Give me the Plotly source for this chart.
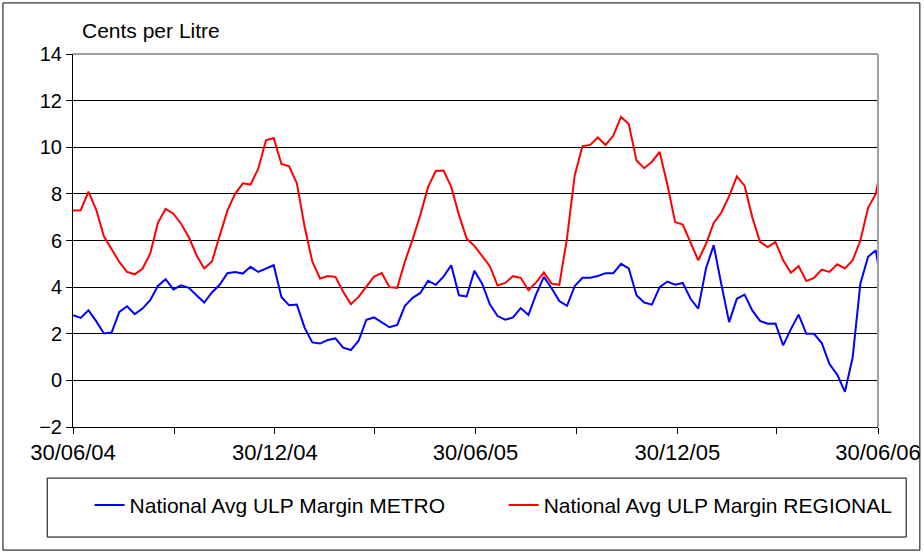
import pandas as pd
import plotly.graph_objects as go

# Weekly readings starting 30/06/2004, plus final day 30/06/2006
start_date = "2004-06-30"
end_date = "2006-06-30"

metro = [2.8, 2.68, 3.01, 2.54, 2.01, 2.05, 2.94, 3.18, 2.84, 3.08,
         3.44, 4.05, 4.34, 3.9, 4.08, 3.97, 3.65, 3.34, 3.77, 4.1,
         4.6, 4.65, 4.58, 4.87, 4.65, 4.8, 4.94, 3.58, 3.22, 3.25,
         2.26, 1.63, 1.58, 1.73, 1.8, 1.4, 1.3, 1.7, 2.6, 2.7,
         2.5, 2.28, 2.38, 3.2, 3.54, 3.75, 4.27, 4.1, 4.45, 4.94,
         3.65, 3.6, 4.7, 4.15, 3.26, 2.76, 2.6, 2.7, 3.1, 2.8,
         3.7, 4.44, 3.95, 3.4, 3.2, 4.05, 4.4, 4.4, 4.48, 4.6,
         4.6, 5.0, 4.8, 3.65, 3.34, 3.25, 4.0, 4.24, 4.1, 4.18,
         3.5, 3.08, 4.8, 5.8, 4.1, 2.5, 3.5, 3.68, 3.0, 2.55,
         2.43, 2.44, 1.5, 2.2, 2.82, 2.0, 2.0, 1.6, 0.7, 0.25,
         -0.49, 0.98, 4.15, 5.3, 5.58, 5.0]

regional = [7.29, 7.3, 8.1, 7.33, 6.18, 5.65, 5.08, 4.65, 4.55, 4.79,
            5.44, 6.76, 7.36, 7.15, 6.72, 6.15, 5.37, 4.8, 5.1, 6.2,
            7.28, 8.0, 8.45, 8.4, 9.08, 10.3, 10.4, 9.28, 9.18, 8.45,
            6.6, 5.1, 4.37, 4.48, 4.44, 3.8, 3.27, 3.58, 4.0, 4.45,
            4.6, 4.0, 3.97, 5.1, 6.05, 7.1, 8.3, 8.98, 9.0, 8.3,
            7.1, 6.08, 5.77, 5.35, 4.9, 4.07, 4.18, 4.47, 4.4, 3.87,
            4.2, 4.63, 4.15, 4.1, 6.1, 8.8, 10.05, 10.1, 10.42, 10.1,
            10.5, 11.3, 11.0, 9.43, 9.1, 9.38, 9.8, 8.4, 6.79, 6.68,
            5.9, 5.15, 5.85, 6.75, 7.2, 7.9, 8.75, 8.35, 7.0, 5.94,
            5.72, 5.94, 5.15, 4.62, 4.9, 4.26, 4.4, 4.75, 4.65, 4.98,
            4.8, 5.15, 6.0, 7.4, 8.0, 8.5]

tick_dates = ["2004-06-30", "2004-09-30", "2004-12-30", "2005-03-30", "2005-06-30",
              "2005-09-30", "2005-12-30", "2006-03-30", "2006-06-30"]
tick_labels = ["30/06/04", "", "30/12/04", "", "30/06/05", "", "30/12/05", "", "30/06/06"]
y_ticks = [-2, 0, 2, 4, 6, 8, 10, 12, 14]

dates = list(pd.date_range(start_date, periods=len(metro) - 1, freq="7D")) + [pd.Timestamp(end_date)]

FONT = "Liberation Sans, Arial, sans-serif"

fig = go.Figure()
fig.add_trace(go.Scatter(x=dates, y=metro, mode="lines", name="National Avg ULP Margin METRO",
                         line=dict(color="#0000FF", width=2), legend="legend"))
fig.add_trace(go.Scatter(x=dates, y=regional, mode="lines", name="National Avg ULP Margin REGIONAL",
                         line=dict(color="#FF0000", width=2), legend="legend2"))

legend_style = dict(orientation="h", xanchor="left", y=-0.21, yanchor="middle",
                    font=dict(family=FONT, size=21, color="black"),
                    bgcolor="rgba(0,0,0,0)", borderwidth=0)

fig.update_layout(
    width=924, height=554,
    margin=dict(l=73, r=46, t=54, b=127, pad=0, autoexpand=False),
    paper_bgcolor="white", plot_bgcolor="white",
    font=dict(family=FONT, size=20, color="black"),
    showlegend=True,
    legend=dict(x=0.0206, **legend_style),
    legend2=dict(x=0.535, **legend_style),
    xaxis=dict(type="date", range=[start_date, end_date],
               tickvals=tick_dates, ticktext=tick_labels,
               showgrid=False, zeroline=False, automargin=False,
               showline=True, linecolor="black", linewidth=1,
               ticks="outside", ticklen=6, tickcolor="black",
               ticklabelstandoff=0,
               tickfont=dict(family=FONT, size=22), tickangle=0),
    yaxis=dict(range=[-2, 14], tickvals=y_ticks, automargin=False,
               showgrid=True, gridcolor="black", gridwidth=1, zeroline=False,
               showline=True, linecolor="black", linewidth=1,
               ticks="outside", ticklen=6, tickcolor="black",
               tickfont=dict(family=FONT, size=20)),
    shapes=[
        dict(type="line", xref="paper", yref="paper", x0=0, x1=1, y0=1, y1=1,
             line=dict(color="#A0A0A0", width=2)),
        dict(type="line", xref="paper", yref="paper", x0=1, x1=1, y0=0, y1=1,
             line=dict(color="#A0A0A0", width=2)),
        dict(type="rect", xref="paper", yref="paper", x0=-0.032, x1=1.035, y0=-0.295, y1=-0.137,
             line=dict(color="black", width=1)),
        dict(type="rect", xref="paper", yref="paper", x0=-0.087, x1=1.052, y0=-0.33, y1=1.137,
             line=dict(color="black", width=1)),
    ],
    annotations=[
        dict(text="Cents per Litre", xref="paper", yref="paper", x=0.009, y=1.064,
             xanchor="left", yanchor="middle", showarrow=False,
             font=dict(family=FONT, size=21, color="black")),
    ],
)

fig.write_html("out.html", config={"displayModeBar": False},
               post_script="document.body.style.margin='0';")
